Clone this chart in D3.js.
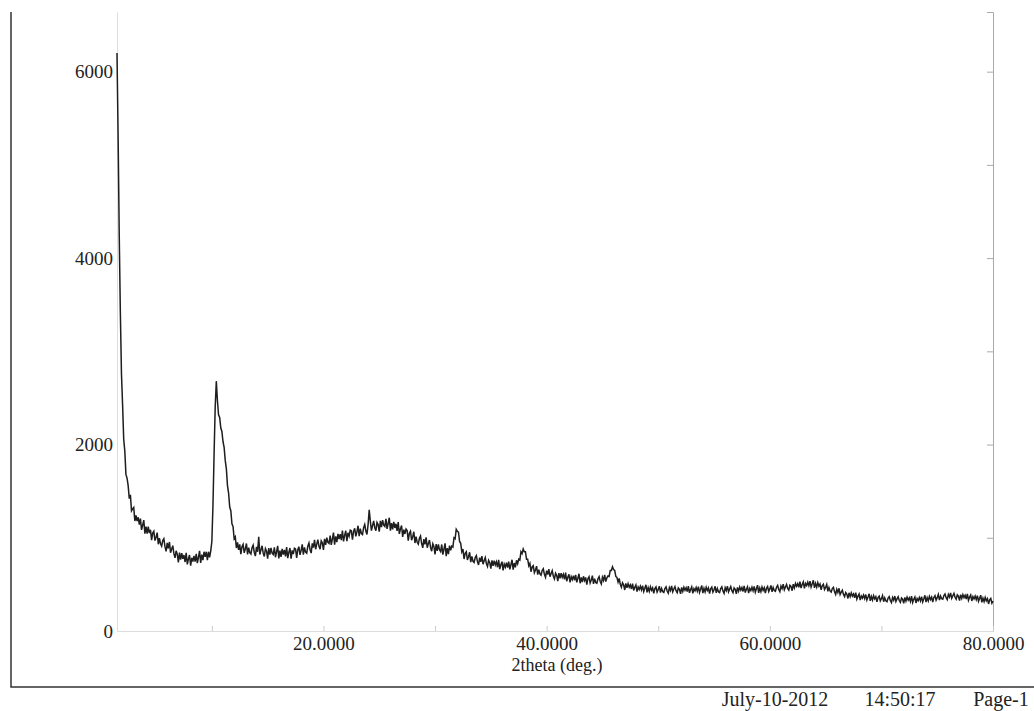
<!DOCTYPE html>
<html>
<head>
<meta charset="utf-8">
<script src="https://cdn.jsdelivr.net/npm/d3@7"></script>
<style>
  body { margin: 0; background: #fff; }
  svg text { font-family: "Liberation Serif", "Times New Roman", serif; fill: #222; }
</style>
</head>
<body>
<div id="chart"></div>
<script>
// scan definition (2theta start / step, deg) and counts
var scanStart = 1.5;
var scanStep = 0.1;
var intensity = [
  6200, 5300, 4250, 3420, 2760, 2430, 2060, 1930, 1680, 1640,
  1560, 1420, 1460, 1290, 1310, 1325, 1180, 1240, 1180, 1220,
  1140, 1205, 1085, 1135, 1190, 1045, 1120, 1045, 1120, 1050,
  1085, 975, 1050, 1070, 970, 1005, 1055, 930, 997, 935,
  910, 970, 990, 905, 855, 945, 885, 955, 840, 880,
  915, 830, 785, 860, 825, 735, 840, 765, 835, 775,
  815, 740, 838, 715, 772, 815, 700, 785, 745, 807,
  745, 828, 727, 791, 860, 730, 820, 760, 850, 795,
  850, 760, 850, 790, 860, 960, 1350, 1900, 2400, 2680,
  2470, 2320, 2290, 2180, 2140, 2030, 1970, 1830, 1740, 1560,
  1480, 1330, 1290, 1150, 1120, 990, 1010, 890, 950, 870,
  930, 825, 905, 930, 838, 881, 939, 822, 895, 840,
  825, 893, 921, 845, 804, 902, 850, 1010, 821, 870,
  914, 837, 800, 884, 858, 776, 890, 819, 892, 835,
  820, 898, 791, 850, 914, 778, 862, 796, 880, 820,
  870, 800, 901, 782, 843, 890, 777, 864, 826, 888,
  880, 783, 871, 904, 817, 865, 929, 818, 897, 846,
  835, 909, 943, 872, 836, 940, 894, 978, 877, 931,
  980, 909, 878, 967, 946, 870, 989, 923, 1002, 951,
  940, 1024, 923, 987, 1056, 925, 1014, 953, 1042, 986,
  1040, 974, 1078, 962, 1026, 1075, 964, 1053, 1017, 1081,
  1075, 979, 1068, 1102, 1016, 1065, 1129, 1018, 1097, 1046,
  1035, 1109, 1143, 1072, 1036, 1140, 1300, 1178, 1077, 1131,
  1180, 1108, 1076, 1164, 1142, 1065, 1182, 1114, 1190, 1136,
  1122, 1202, 1095, 1153, 1215, 1077, 1158, 1089, 1170, 1105,
  1150, 1074, 1168, 1041, 1094, 1132, 1010, 1088, 1041, 1094,
  1077, 970, 1048, 1071, 974, 1012, 1065, 944, 1013, 952,
  931, 995, 1019, 938, 892, 986, 930, 1004, 893, 937,
  976, 896, 856, 936, 906, 822, 933, 859, 930, 871,
  852, 928, 820, 877, 940, 803, 888, 825, 915, 865,
  910, 900, 1000, 990, 1090, 1070, 1060, 960, 940, 850,
  880, 772, 833, 850, 762, 796, 845, 738, 801, 748,
  736, 788, 808, 744, 709, 786, 743, 804, 717, 754,
  787, 724, 693, 758, 735, 668, 757, 698, 755, 708,
  742, 684, 762, 664, 710, 744, 651, 718, 685, 733,
  681, 745, 662, 711, 764, 658, 729, 682, 758, 722,
  770, 760, 850, 830, 880, 850, 850, 770, 770, 700,
  726, 636, 687, 700, 625, 654, 695, 604, 657, 612,
  598, 648, 667, 608, 575, 647, 606, 664, 582, 616,
  647, 588, 558, 619, 597, 535, 620, 565, 620, 576,
  608, 553, 626, 534, 577, 609, 521, 583, 551, 594,
  543, 602, 522, 566, 614, 512, 574, 525, 587, 541,
  574, 498, 561, 582, 515, 548, 593, 505, 562, 520,
  512, 561, 583, 531, 504, 576, 543, 601, 531, 570,
  590, 585, 650, 650, 690, 660, 650, 585, 575, 525,
  564, 502, 470, 518, 496, 440, 511, 463, 508, 470,
  495, 451, 509, 435, 469, 494, 423, 472, 446, 480,
  440, 487, 423, 458, 496, 414, 464, 424, 474, 437,
  463, 403, 454, 472, 418, 445, 481, 412, 457, 424,
  414, 456, 474, 429, 405, 465, 435, 483, 420, 450,
  476, 431, 410, 461, 446, 398, 467, 425, 470, 437,
  464, 422, 482, 410, 446, 473, 404, 455, 431, 467,
  428, 476, 413, 449, 488, 407, 458, 419, 470, 434,
  461, 401, 452, 470, 416, 443, 479, 410, 455, 422,
  413, 455, 473, 428, 404, 464, 434, 482, 419, 449,
  477, 432, 411, 462, 447, 399, 468, 426, 471, 438,
  466, 424, 484, 412, 448, 475, 406, 457, 433, 469,
  431, 479, 416, 452, 491, 410, 461, 422, 473, 437,
  465, 406, 458, 477, 424, 452, 489, 421, 467, 435,
  427, 470, 489, 445, 422, 483, 454, 503, 441, 472,
  500, 457, 438, 491, 478, 432, 503, 463, 510, 479,
  508, 468, 530, 460, 498, 526, 458, 510, 487, 524,
  486, 534, 471, 506, 544, 462, 511, 470, 519, 480,
  504, 441, 488, 502, 444, 467, 499, 426, 467, 430,
  417, 455, 469, 420, 392, 448, 414, 458, 391, 417,
  437, 392, 369, 413, 397, 349, 410, 368, 408, 375,
  398, 357, 411, 342, 374, 396, 331, 376, 353, 385,
  348, 391, 332, 364, 399, 324, 370, 333, 379, 344,
  368, 312, 358, 374, 323, 347, 379, 314, 355, 323,
  314, 353, 369, 328, 305, 359, 331, 375, 317, 344,
  368, 327, 307, 354, 341, 296, 360, 321, 363, 332,
  356, 317, 373, 306, 340, 364, 301, 348, 326, 359,
  324, 369, 312, 346, 383, 310, 358, 323, 371, 338,
  364, 311, 360, 379, 331, 358, 393, 331, 375, 346,
  340, 380, 397, 357, 336, 392, 364, 409, 351, 378,
  403, 362, 341, 387, 373, 327, 390, 350, 391, 359,
  383, 343, 398, 330, 363, 386, 322, 368, 344, 375,
  337, 379, 319, 350, 384, 308, 353, 315, 360, 324,
  347, 290, 335, 350, 298, 321
];
var xLabelTicks = [20, 40, 60, 80];
var xMinorTicks = [10, 20, 30, 40, 50, 60, 70, 80];
var yLabelTicks = [0, 2000, 4000, 6000];
var yRightTicks = [0, 1000, 2000, 3000, 4000, 5000, 6000];
var xTitle = "2theta (deg.)";
var footer = ["July-10-2012", "14:50:17", "Page-1"];

var W = 1034, H = 711;
var svg = d3.select("#chart").append("svg")
  .attr("width", W)
  .attr("height", H);

var x = d3.scaleLinear().domain([1.5, 80]).range([117, 993]);
var y = d3.scaleLinear().domain([0, 6640]).range([631, 12]);

var data = intensity.map(function(v, i) {
  return { t: scanStart + i * scanStep, c: v };
});

// page frame (left + bottom rule)
svg.append("path")
  .attr("d", "M11,12 L11,687 L1034,687")
  .attr("fill", "none")
  .attr("stroke", "#333")
  .attr("stroke-width", 1.5);

// left axis: faint line, labels only
var yAxis = svg.append("g")
  .attr("transform", "translate(117,0)")
  .call(d3.axisLeft(y).tickValues(yLabelTicks).tickSize(0).tickPadding(4).tickFormat(d3.format("d")));
yAxis.select(".domain").attr("stroke", "#ddd");
yAxis.selectAll("text").style("font-size", "19px");

// right axis with inward ticks
var rAxis = svg.append("g")
  .attr("transform", "translate(993,0)")
  .call(d3.axisLeft(y).tickValues(yRightTicks).tickSize(6).tickFormat(""));
rAxis.select(".domain").attr("stroke", "#aaa");
rAxis.selectAll("line").attr("stroke", "#aaa");

// bottom axis: minor ticks pointing up, labels every 20 deg
var xAxis = svg.append("g")
  .attr("transform", "translate(0,631)")
  .call(d3.axisBottom(x).tickValues(xMinorTicks).tickSizeInner(-5).tickSizeOuter(0).tickPadding(6)
    .tickFormat(function(d) { return xLabelTicks.indexOf(d) >= 0 ? d3.format(".4f")(d) : ""; }));
xAxis.select(".domain").attr("stroke", "#ddd");
xAxis.selectAll("line").attr("stroke", "#ccc");
xAxis.selectAll("text").style("font-size", "19px");

svg.append("text")
  .attr("x", 557)
  .attr("y", 671)
  .attr("text-anchor", "middle")
  .style("font-size", "18px")
  .text(xTitle);

// footer line
var footerX = [775, 900, 1001];
svg.selectAll(".foot")
  .data(footer)
  .enter().append("text")
  .attr("class", "foot")
  .attr("x", function(d, i) { return footerX[i]; })
  .attr("y", 706)
  .attr("text-anchor", "middle")
  .style("font-size", "20px")
  .text(function(d) { return d; });

// the pattern
var line = d3.line()
  .x(function(d) { return x(d.t); })
  .y(function(d) { return y(d.c); });

svg.append("path")
  .datum(data)
  .attr("fill", "none")
  .attr("stroke", "#1e1e1e")
  .attr("stroke-width", 1.5)
  .attr("d", line);
</script>
</body>
</html>
